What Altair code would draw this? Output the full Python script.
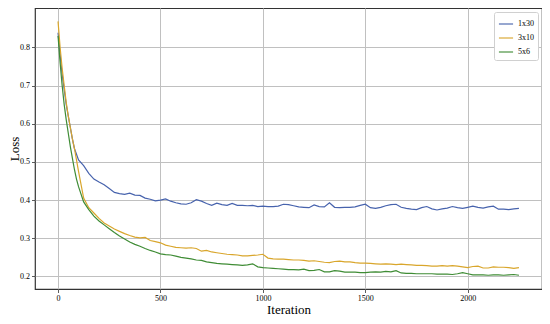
import altair as alt
import pandas as pd

iterations = [0, 10, 20, 30, 40, 50, 60, 70, 80, 90, 100] + list(range(125, 2251, 25))

loss_1x30 = [0.838, 0.78, 0.73, 0.69, 0.65, 0.62, 0.59, 0.56, 0.535, 0.52, 0.505,
             0.49, 0.47, 0.455, 0.447, 0.44, 0.43, 0.42, 0.417, 0.415, 0.418, 0.413, 0.412,
             0.405, 0.402, 0.398, 0.400, 0.403, 0.397, 0.393, 0.39, 0.389, 0.393, 0.401, 0.397,
             0.391, 0.386, 0.392, 0.388, 0.386, 0.391, 0.386, 0.386, 0.385, 0.386, 0.383, 0.384,
             0.383, 0.383, 0.384, 0.389, 0.388, 0.385, 0.382, 0.381, 0.380, 0.387, 0.383, 0.382,
             0.393, 0.381, 0.380, 0.381, 0.381, 0.382, 0.386, 0.389, 0.380, 0.378, 0.381, 0.385,
             0.388, 0.389, 0.381, 0.378, 0.376, 0.375, 0.380, 0.383, 0.377, 0.374, 0.377, 0.379,
             0.383, 0.380, 0.378, 0.381, 0.384, 0.381, 0.379, 0.382, 0.384, 0.376, 0.376, 0.375,
             0.377, 0.378]

loss_3x10 = [0.868, 0.80, 0.745, 0.70, 0.655, 0.62, 0.59, 0.56, 0.535, 0.505, 0.475,
             0.405, 0.38, 0.366, 0.352, 0.34, 0.332, 0.324, 0.318, 0.312, 0.307, 0.303, 0.301,
             0.302, 0.294, 0.291, 0.288, 0.282, 0.279, 0.276, 0.275, 0.274, 0.275, 0.273, 0.266,
             0.268, 0.264, 0.262, 0.260, 0.258, 0.257, 0.256, 0.254, 0.254, 0.255, 0.256, 0.258,
             0.248, 0.246, 0.245, 0.245, 0.244, 0.243, 0.243, 0.242, 0.240, 0.241, 0.239, 0.237,
             0.236, 0.239, 0.240, 0.238, 0.238, 0.236, 0.235, 0.235, 0.234, 0.233, 0.232, 0.233,
             0.232, 0.231, 0.232, 0.231, 0.230, 0.229, 0.229, 0.228, 0.227, 0.227, 0.228, 0.227,
             0.228, 0.227, 0.225, 0.223, 0.226, 0.227, 0.222, 0.222, 0.225, 0.224, 0.224, 0.223,
             0.221, 0.223]

loss_5x6 = [0.83, 0.76, 0.70, 0.65, 0.61, 0.575, 0.54, 0.51, 0.48, 0.455, 0.435,
            0.395, 0.375, 0.358, 0.345, 0.335, 0.325, 0.315, 0.306, 0.298, 0.29, 0.284, 0.279,
            0.273, 0.268, 0.264, 0.259, 0.257, 0.256, 0.253, 0.250, 0.248, 0.246, 0.243, 0.242,
            0.238, 0.236, 0.234, 0.233, 0.232, 0.231, 0.230, 0.229, 0.230, 0.233, 0.225, 0.223,
            0.222, 0.221, 0.220, 0.219, 0.218, 0.218, 0.217, 0.219, 0.215, 0.216, 0.218, 0.212,
            0.212, 0.215, 0.214, 0.211, 0.211, 0.211, 0.210, 0.210, 0.211, 0.212, 0.211, 0.213,
            0.212, 0.215, 0.209, 0.208, 0.208, 0.207, 0.207, 0.207, 0.207, 0.206, 0.206, 0.206,
            0.205, 0.207, 0.210, 0.207, 0.204, 0.204, 0.204, 0.203, 0.204, 0.204, 0.203, 0.204,
            0.205, 0.203]

series_names = ["1x30", "3x10", "5x6"]
series_colors = ["#4763ad", "#d9a62c", "#3f8c35"]

rows = []
for name, vals in zip(series_names, [loss_1x30, loss_3x10, loss_5x6]):
    for it, v in zip(iterations, vals):
        rows.append({"Iteration": it, "Loss": v, "Config": name})
df = pd.DataFrame(rows)

FONT = "Liberation Serif"

chart = alt.Chart(df).mark_line(strokeWidth=1.2).encode(
    x=alt.X("Iteration:Q",
            scale=alt.Scale(domain=[-112.5, 2362.5], nice=False, zero=False),
            axis=alt.Axis(values=[0, 500, 1000, 1500, 2000], title="Iteration",
                          format="d", titleY=24, titleBaseline="alphabetic")),
    y=alt.Y("Loss:Q",
            scale=alt.Scale(domain=[0.167, 0.903], nice=False, zero=False),
            axis=alt.Axis(values=[0.2, 0.3, 0.4, 0.5, 0.6, 0.7, 0.8], title="Loss",
                          format=".1f", titleX=-21, titleBaseline="middle")),
    color=alt.Color("Config:N",
                    scale=alt.Scale(domain=series_names, range=series_colors),
                    legend=alt.Legend(title=None, orient="top-right", offset=4,
                                      symbolType="stroke", symbolStrokeWidth=1.5,
                                      symbolSize=200, symbolOpacity=0.75,
                                      labelFont=FONT, labelFontSize=8,
                                      labelColor="#000", rowPadding=2,
                                      padding=4, cornerRadius=2,
                                      strokeColor="#d0d0d0", fillColor="#ffffff")),
).properties(
    width=507, height=281,
    padding={"left": 27, "top": 0, "right": 0, "bottom": 27},
    autosize="none",
).configure_view(
    stroke="#333333", strokeWidth=1.2
).configure_axis(
    labelFont=FONT, labelFontSize=8, labelColor="#000",
    titleFont=FONT, titleFontSize=13, titleFontWeight="normal", titleColor="#000",
    grid=True, gridColor="#c0c0c0", gridWidth=1,
    domain=False, tickColor="#333", tickSize=3.5, tickWidth=0.8,
    labelPadding=2,
)

chart.save("out.html", embed_options={"renderer": "svg", "actions": False})
